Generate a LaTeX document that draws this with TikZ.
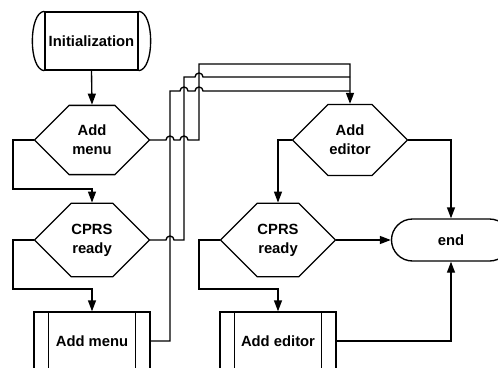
\documentclass[tikz,border=0pt]{standalone}
\usepackage{fontspec}
\setmainfont{Liberation Sans}
\usetikzlibrary{shapes.misc,arrows.meta,calc}
\begin{document}
\begin{tikzpicture}[x=1pt,y=-1pt,
  every node/.style={font=\fontsize{14.8}{19}\selectfont\bfseries, align=center, inner sep=0pt},
  ln/.style={line width=1.35pt, line join=miter},
  arr/.style={ln,-{Triangle[length=11pt,width=8pt]}},
  hexa/.style={chamfered rectangle, chamfered rectangle xsep=27pt, chamfered rectangle ysep=28pt, minimum width=115pt, minimum height=56pt, draw, line width=1.35pt},
  proc/.style={rectangle, draw, line width=1.35pt, minimum width=116pt, minimum height=58pt},
  term/.style={rounded rectangle, draw, line width=1.35pt, minimum width=119pt, minimum height=42pt}
]
\useasboundingbox (0,0) rectangle (498,367);
\clip (0,0) rectangle (498,367);
% start
\node[rectangle, draw, line width=1.35pt, minimum width=93pt, minimum height=58pt] (init) at (91.5,41) {Initialization};
\draw[ln] (init.north west) .. controls ($(init.north west)+(-16,1)$) and ($(init.south west)+(-16,-1)$) .. (init.south west);
\draw[ln] (init.north east) .. controls ($(init.north east)+(16,1)$) and ($(init.south east)+(16,-1)$) .. (init.south east);
% left column
\node[hexa] (am) at (92,140) {Add\\menu};
\node[hexa] (cr1) at (92,240) {CPRS\\ready};
\node[proc] (am2) at (92,341) {Add menu};
\draw[ln] ($(am2.north west)+(15,0)$) -- ($(am2.south west)+(15,0)$);
\draw[ln] ($(am2.north east)+(-15,0)$) -- ($(am2.south east)+(-15,0)$);
% right column
\node[hexa] (ae) at (350,140) {Add\\editor};
\node[hexa] (cr2) at (278,240) {CPRS\\ready};
\node[proc] (ae2) at (278,341) {Add editor};
\draw[ln] ($(ae2.north west)+(15,0)$) -- ($(ae2.south west)+(15,0)$);
\draw[ln] ($(ae2.north east)+(-15,0)$) -- ($(ae2.south east)+(-15,0)$);
\node[term] (fin) at (451,240) {end};
\coordinate (j1) at (350,77);
\coordinate (j2) at (350,91);
% connectors
\draw[arr] (init.south) -- (am.north);
\draw[arr] (am.west) -| (13,189) -| (cr1.north);
\draw[arr] (cr1.west) -| (13,289) -| (am2.north);
\draw[arr] (am.east) -- (166,140) arc[start angle=180,end angle=0,radius=4pt] -- (180,140) arc[start angle=180,end angle=0,radius=4pt] -- (199,140) -- (199,64) -- (350,64) -- (ae.north);
\draw[ln] (cr1.east) -- (166,240) arc[start angle=180,end angle=0,radius=4pt] -- (184,240) -- (184,77) -- (195,77) arc[start angle=180,end angle=0,radius=4pt] -- (j1);
\draw[ln] (am2.east) -- (170,341) -- (170,91) -- (180,91) arc[start angle=180,end angle=0,radius=4pt] -- (195,91) arc[start angle=180,end angle=0,radius=4pt] -- (j2);
\draw[arr] (ae.west) -| (cr2.north);
\draw[arr] (ae.east) -| (fin.north);
\draw[arr] (cr2.east) -- (fin.west);
\draw[arr] (cr2.west) -| (199,289) -| (ae2.north);
\draw[arr] (ae2.east) -| (fin.south);
\end{tikzpicture}
\end{document}
